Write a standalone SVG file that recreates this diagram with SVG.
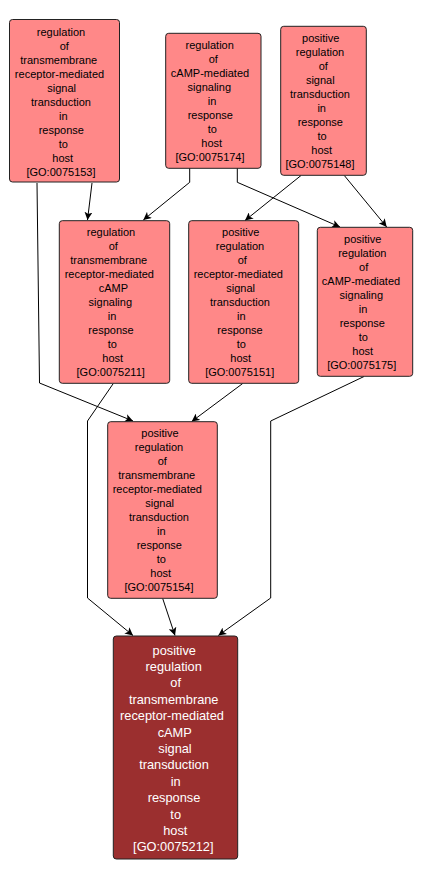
<svg xmlns="http://www.w3.org/2000/svg" width="423" height="879" viewBox="0 0 423 879">
<style>
.n rect{fill:#ff8888;stroke:#222;stroke-width:1}
.n text{font-family:"Liberation Sans",Arial,sans-serif;font-size:11px;fill:#000;text-anchor:middle}
.d rect{fill:#9b2f2f;stroke:#222;stroke-width:1}
.d text{font-family:"Liberation Sans",Arial,sans-serif;font-size:12.8px;fill:#fff;text-anchor:middle}
.e path{fill:none;stroke:#000;stroke-width:1;marker-end:url(#ah)}
</style>
<defs>
<marker id="ah" markerWidth="9" markerHeight="8" refX="8" refY="4" orient="auto" markerUnits="userSpaceOnUse">
<path d="M0,0 L8,4 L0,8 L2,4 z" fill="#000"/>
</marker>
</defs>
<rect width="423" height="879" fill="#fff"/>
<g id="edges" class="e">
<path d="M37,183 L39.5,383 L133,421"/>
<path d="M92,183 L87.5,220"/>
<path d="M189.7,168 L189.7,182.3 L143.3,220"/>
<path d="M237.3,168 L237.3,182.3 L340,227"/>
<path d="M301,175.5 L245,220.5"/>
<path d="M344.3,175.5 L386.7,227"/>
<path d="M113.3,383.5 L87.5,421 L87.5,598 L133,635.5"/>
<path d="M242.7,383.5 L191.7,421.5"/>
<path d="M364,376.5 L270.7,421 L270.7,598 L218.3,635.5"/>
<path d="M162.7,598.5 L175,635.5"/>
</g>
<g id="GO0075153" class="n">
<rect x="9.5" y="19.5" width="110" height="162.5" rx="3"/>
<text x="61" y="35.6">regulation</text>
<text x="64.3" y="49.6">of</text>
<text x="58.7" y="63.6">transmembrane</text>
<text x="59.5" y="77.6">receptor-mediated</text>
<text x="61.7" y="91.6">signal</text>
<text x="61" y="105.6">transduction</text>
<text x="63.3" y="119.6">in</text>
<text x="61.3" y="133.6">response</text>
<text x="63.3" y="147.6">to</text>
<text x="62.7" y="161.6">host</text>
<text x="61" y="175.6">[GO:0075153]</text>
</g>
<g id="GO0075174" class="n">
<rect x="165.7" y="33.3" width="95.3" height="135" rx="3"/>
<text x="209.7" y="49">regulation</text>
<text x="213.3" y="63">of</text>
<text x="210" y="77">cAMP-mediated</text>
<text x="209.3" y="91">signaling</text>
<text x="212" y="105">in</text>
<text x="210.3" y="119">response</text>
<text x="212.3" y="133">to</text>
<text x="211.7" y="147">host</text>
<text x="210" y="161">[GO:0075174]</text>
</g>
<g id="GO0075148" class="n">
<rect x="280.7" y="26.3" width="85.6" height="149" rx="3"/>
<text x="320.7" y="42.3">positive</text>
<text x="320" y="56.3">regulation</text>
<text x="323.3" y="70.3">of</text>
<text x="320.3" y="84.3">signal</text>
<text x="320" y="98.3">transduction</text>
<text x="321.7" y="112.3">in</text>
<text x="320.3" y="126.3">response</text>
<text x="322" y="140.3">to</text>
<text x="321.7" y="154.3">host</text>
<text x="320" y="168.3">[GO:0075148]</text>
</g>
<g id="GO0075211" class="n">
<rect x="59.3" y="220.7" width="110.4" height="162.6" rx="3"/>
<text x="111" y="236.3">regulation</text>
<text x="113.3" y="250.3">of</text>
<text x="108.7" y="264.3">transmembrane</text>
<text x="109.3" y="278.3">receptor-mediated</text>
<text x="113.3" y="292.3">cAMP</text>
<text x="110.3" y="306.3">signaling</text>
<text x="112" y="320.3">in</text>
<text x="111" y="334.3">response</text>
<text x="112.3" y="348.3">to</text>
<text x="112.7" y="362.3">host</text>
<text x="110.7" y="376.3">[GO:0075211]</text>
</g>
<g id="GO0075151" class="n">
<rect x="188.7" y="220.7" width="110" height="162.6" rx="3"/>
<text x="240.7" y="236.3">positive</text>
<text x="240" y="250.3">regulation</text>
<text x="242.3" y="264.3">of</text>
<text x="238.3" y="278.3">receptor-mediated</text>
<text x="240.7" y="292.3">signal</text>
<text x="240" y="306.3">transduction</text>
<text x="241.3" y="320.3">in</text>
<text x="240" y="334.3">response</text>
<text x="241.3" y="348.3">to</text>
<text x="240.7" y="362.3">host</text>
<text x="239.7" y="376.3">[GO:0075151]</text>
</g>
<g id="GO0075175" class="n">
<rect x="317.3" y="227.3" width="95.4" height="149" rx="3"/>
<text x="362.7" y="243.3">positive</text>
<text x="362.3" y="257.3">regulation</text>
<text x="363.7" y="271.3">of</text>
<text x="361" y="285.3">cAMP-mediated</text>
<text x="361.3" y="299.3">signaling</text>
<text x="363" y="313.3">in</text>
<text x="362.3" y="327.3">response</text>
<text x="363.3" y="341.3">to</text>
<text x="362.7" y="355.3">host</text>
<text x="361.7" y="369.3">[GO:0075175]</text>
</g>
<g id="GO0075154" class="n">
<rect x="107.7" y="421.7" width="109.6" height="176.6" rx="3"/>
<text x="160" y="437.3">positive</text>
<text x="159" y="451.3">regulation</text>
<text x="162.3" y="465.3">of</text>
<text x="156.7" y="479.3">transmembrane</text>
<text x="157.3" y="493.3">receptor-mediated</text>
<text x="159.7" y="507.3">signal</text>
<text x="159" y="521.3">transduction</text>
<text x="161.3" y="535.3">in</text>
<text x="159.3" y="549.3">response</text>
<text x="161.3" y="563.3">to</text>
<text x="160.7" y="577.3">host</text>
<text x="159" y="591.3">[GO:0075154]</text>
</g>
<g id="GO0075212" class="d">
<rect x="113.3" y="636" width="124.4" height="223" rx="3"/>
<text x="174.3" y="654.5">positive</text>
<text x="173.7" y="670.9">regulation</text>
<text x="175.7" y="687.3">of</text>
<text x="173.7" y="703.7">transmembrane</text>
<text x="172" y="720.1">receptor-mediated</text>
<text x="174.7" y="736.5">cAMP</text>
<text x="175" y="752.9">signal</text>
<text x="174" y="769.3">transduction</text>
<text x="175.7" y="785.7">in</text>
<text x="174" y="802.1">response</text>
<text x="175.7" y="818.5">to</text>
<text x="175.3" y="834.9">host</text>
<text x="173.3" y="851.3">[GO:0075212]</text>
</g>
</svg>
